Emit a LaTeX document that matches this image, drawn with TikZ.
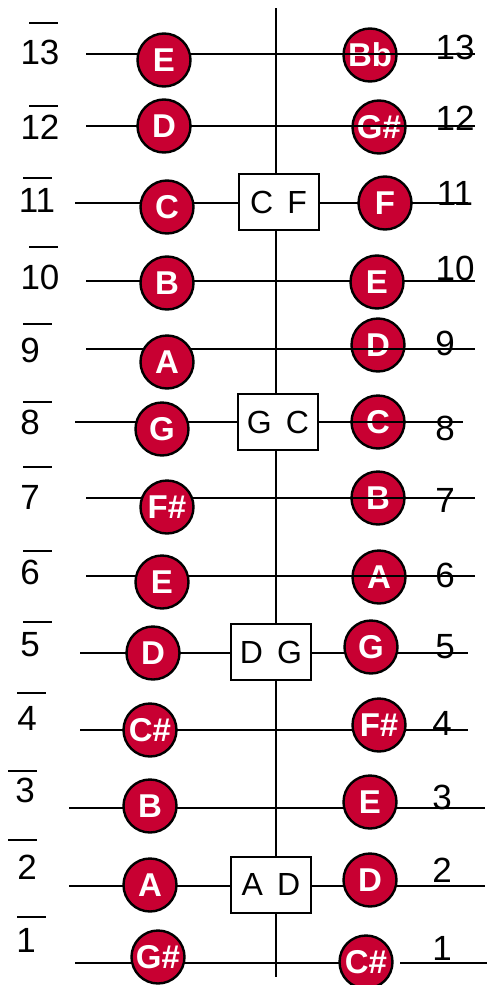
\documentclass[tikz,border=0pt]{standalone}
\usepackage{fontspec}
\setmainfont{Liberation Sans}
\usepackage{tikz}
\definecolor{cnote}{HTML}{C80032}

\begin{document}
\begin{tikzpicture}[x=0.5pt,y=-0.5pt,
  note/.style={circle,draw=black,line width=1.2pt,fill=cnote,text=white,
               minimum size=26.5pt,inner sep=0pt,font=\fontsize{16.5}{16.5}\selectfont\bfseries},
  pair/.style={rectangle,draw=black,line width=1pt,fill=white,inner sep=0pt,
               minimum width=40pt,minimum height=28pt,font=\fontsize{16}{16}\selectfont},
  num/.style={inner sep=0pt,font=\fontsize{17.5}{17.5}\selectfont},
  str/.style={line width=1pt}]
\useasboundingbox (0,0) rectangle (487,985);
\coordinate (top) at (276,8);
\coordinate (bot) at (276,977);
\draw[str] (top) -- (bot);
\foreach \n/\y/\xs/\xe/\lx/\ly/\ox/\oy/\ln/\Lx/\Ly/\rn/\Rx/\Ry/\nx/\ny/\over in {
  13/54/86/475/40/52/29/23/E/164/60/Bb/370/55/455/47/1,
  12/126/86/475/40/127/29/106/D/164/126/G\#/379/127/455/118/1,
  11/203/75/468/37/200/23/178/C/167/207/F/385/203/455/193/0,
  10/281/86/475/40/277/29/247/B/167/283/E/377/282/455/268/0,
  9/349/86/475/30/350/23/324/A/167/362/D/378/345/445/343/1,
  8/422/75/463/30/422/23/402/G/162/429/C/378/422/445/428/1,
  7/498/86/475/30/497/23/467/F\#/167/507/B/378/498/445/500/1,
  6/576/86/475/30/572/23/551/E/162/582/A/379/577/445/575/1,
  5/653/80/468/30/645/23/622/D/153/653/G/371/647/445/647/0,
  4/730/80/468/27/718/17/693/C\#/150/730/F\#/379/725/442/723/0,
  3/808/69/485/25/790/8/771/B/150/806/E/370/802/442/797/0,
  2/886/69/485/27/867/8/840/A/150/885/D/370/880/442/870/0,
  1/963/75/487/26/940/17/917/G\#/158/957/C\#/366/962/442/948/0}{
  \coordinate (s\n) at (\xs,\y);
  \coordinate (e\n) at (\xe,\y);
  \ifnum\n=1
    \coordinate (g\n) at (400,\y);
    \draw[str] (s\n) -- (\Rx,\y) (g\n) -- (e\n);
  \else
    \draw[str] (s\n) -- (e\n);
  \fi
  \node[num] (l\n) at (\lx,\ly) {\n};
  \draw[str] (\ox,\oy) -- ++(29,0);
  \node[num] (r\n) at (\nx,\ny) {\n};
  \node[note] (L\n) at (\Lx,\Ly) {\ln};
  \node[note] (R\n) at (\Rx,\Ry) {\rn};
  \ifnum\over=1 \draw[str] (330,\y) -- (e\n);\fi
}
\node[pair] (cf) at (278.5,202) {C~\,F};
\node[pair] (gc) at (278,422) {G~\,C};
\node[pair] (dg) at (271,652) {D~\,G};
\node[pair] (ad) at (271,884.5) {A~\,D};
\end{tikzpicture}
\end{document}
